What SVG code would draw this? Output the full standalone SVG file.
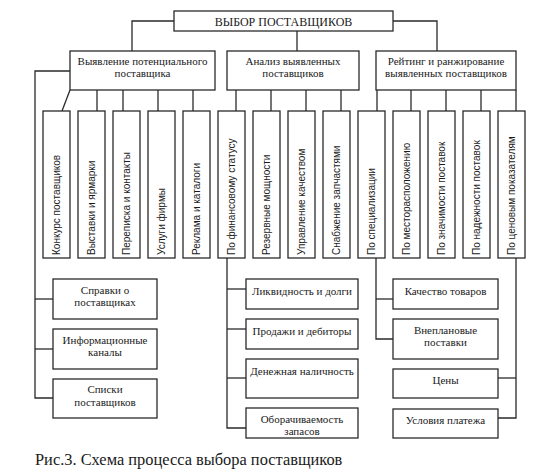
<svg xmlns="http://www.w3.org/2000/svg" width="543" height="474" viewBox="0 0 543 474">
<style>
.b{fill:#fff;stroke:#2a2a2a;stroke-width:1.3}
.c{fill:none;stroke:#2a2a2a;stroke-width:1.3}
.s{font-family:"Liberation Serif","Times New Roman",serif;font-size:11px;fill:#1a1a1a;text-anchor:middle}
.v{font-family:"Liberation Sans",Arial,sans-serif;font-size:10px;fill:#1a1a1a;text-anchor:start}
.t{font-family:"Liberation Serif","Times New Roman",serif;font-size:12px;fill:#1a1a1a;text-anchor:middle}
.cap{font-family:"Liberation Serif","Times New Roman",serif;font-size:16.4px;fill:#1a1a1a}
</style>
<rect width="543" height="474" fill="#fff"/>
<g id="connectors">
<polyline class="c" points="174,21 132,21 132,51"/>
<polyline class="c" points="393,21 437,21 437,51"/>
<line class="c" x1="297" y1="31" x2="297" y2="51"/>
<line class="c" x1="70" y1="90" x2="62" y2="111"/>
<line class="c" x1="97" y1="90" x2="97" y2="111"/>
<line class="c" x1="123" y1="90" x2="123" y2="111"/>
<line class="c" x1="158" y1="90" x2="158" y2="111"/>
<line class="c" x1="193" y1="90" x2="193" y2="111"/>
<line class="c" x1="236" y1="90" x2="236" y2="111"/>
<line class="c" x1="271" y1="90" x2="271" y2="111"/>
<line class="c" x1="306" y1="90" x2="306" y2="111"/>
<line class="c" x1="341" y1="90" x2="341" y2="111"/>
<line class="c" x1="377" y1="90" x2="377" y2="111"/>
<line class="c" x1="411" y1="90" x2="411" y2="111"/>
<line class="c" x1="446" y1="90" x2="446" y2="111"/>
<line class="c" x1="481" y1="90" x2="481" y2="111"/>
<line class="c" x1="516" y1="90" x2="516" y2="111"/>
<polyline class="c" points="70,71 35,71 35,398 53,398"/>
<line class="c" x1="35" y1="299" x2="53" y2="299"/>
<line class="c" x1="35" y1="349" x2="53" y2="349"/>
<polyline class="c" points="227,258 227,428 246,428"/>
<line class="c" x1="227" y1="289" x2="246" y2="289"/>
<line class="c" x1="227" y1="329" x2="246" y2="329"/>
<line class="c" x1="227" y1="378" x2="246" y2="378"/>
<polyline class="c" points="376,258 376,339 393,339"/>
<line class="c" x1="376" y1="299" x2="393" y2="299"/>
<polyline class="c" points="516,258 516,418 498,418"/>
<line class="c" x1="516" y1="378" x2="498" y2="378"/>
</g>
<g id="root"><rect class="b" x="174" y="11" width="219" height="20"/><text class="t" x="283.5" y="25.5">ВЫБОР ПОСТАВЩИКОВ</text></g>
<g id="l1a"><rect class="b" x="70" y="51" width="145" height="39"/><text class="s" x="142.5" y="65">Выявление потенциального</text><text class="s" x="142.5" y="77">поставщика</text></g>
<g id="l1b"><rect class="b" x="227" y="51" width="132" height="39"/><text class="s" x="293" y="65">Анализ выявленных</text><text class="s" x="293" y="77">поставщиков</text></g>
<g id="l1c"><rect class="b" x="376" y="51" width="140" height="39"/><text class="s" x="446" y="65">Рейтинг и ранжирование</text><text class="s" x="446" y="77">выявленных поставщиков</text></g>
<g id="v1"><rect class="b" x="43" y="111" width="27" height="147"/><text class="v" transform="translate(60,255) rotate(-90)">Конкурс поставщиков</text></g>
<g id="v2"><rect class="b" x="78" y="111" width="27" height="147"/><text class="v" transform="translate(95,255) rotate(-90)">Выставки и ярмарки</text></g>
<g id="v3"><rect class="b" x="113" y="111" width="27" height="147"/><text class="v" transform="translate(130,255) rotate(-90)">Переписка и контакты</text></g>
<g id="v4"><rect class="b" x="148" y="111" width="27" height="147"/><text class="v" transform="translate(165,255) rotate(-90)">Услуги фирмы</text></g>
<g id="v5"><rect class="b" x="183" y="111" width="27" height="147"/><text class="v" transform="translate(200,255) rotate(-90)">Реклама и каталоги</text></g>
<g id="v6"><rect class="b" x="218" y="111" width="27" height="147"/><text class="v" transform="translate(235,255) rotate(-90)">По финансовому статусу</text></g>
<g id="v7"><rect class="b" x="253" y="111" width="27" height="147"/><text class="v" transform="translate(270,255) rotate(-90)">Резервные мощности</text></g>
<g id="v8"><rect class="b" x="288" y="111" width="27" height="147"/><text class="v" transform="translate(305,255) rotate(-90)">Управление качеством</text></g>
<g id="v9"><rect class="b" x="323" y="111" width="27" height="147"/><text class="v" transform="translate(340,255) rotate(-90)">Снабжение запчастями</text></g>
<g id="v10"><rect class="b" x="358" y="111" width="27" height="147"/><text class="v" transform="translate(375,255) rotate(-90)">По специализации</text></g>
<g id="v11"><rect class="b" x="393" y="111" width="27" height="147"/><text class="v" transform="translate(410,255) rotate(-90)">По месторасположению</text></g>
<g id="v12"><rect class="b" x="428" y="111" width="27" height="147"/><text class="v" transform="translate(445,255) rotate(-90)">По значимости поставок</text></g>
<g id="v13"><rect class="b" x="463" y="111" width="27" height="147"/><text class="v" transform="translate(480,255) rotate(-90)">По надежности поставок</text></g>
<g id="v14"><rect class="b" x="498" y="111" width="27" height="147"/><text class="v" transform="translate(515,255) rotate(-90)">По ценовым показателям</text></g>
<g id="a1"><rect class="b" x="53" y="279" width="104" height="40"/><text class="s" x="105" y="294">Справки о</text><text class="s" x="105" y="306">поставщиках</text></g>
<g id="a2"><rect class="b" x="53" y="329" width="104" height="40"/><text class="s" x="105" y="344">Информационные</text><text class="s" x="105" y="356">каналы</text></g>
<g id="a3"><rect class="b" x="53" y="379" width="104" height="39"/><text class="s" x="105" y="393">Списки</text><text class="s" x="105" y="406">поставщиков</text></g>
<g id="b1"><rect class="b" x="246" y="279" width="112" height="30"/><text class="s" x="302" y="295">Ликвидность и долги</text></g>
<g id="b2"><rect class="b" x="246" y="319" width="112" height="30"/><text class="s" x="302" y="335">Продажи и дебиторы</text></g>
<g id="b3"><rect class="b" x="246" y="359" width="112" height="39"/><text class="s" x="302" y="375">Денежная наличность</text></g>
<g id="b4"><rect class="b" x="246" y="408" width="112" height="30"/><text class="s" x="302" y="423">Оборачиваемость</text><text class="s" x="302" y="435">запасов</text></g>
<g id="c1"><rect class="b" x="393" y="279" width="105" height="30"/><text class="s" x="445.5" y="295">Качество товаров</text></g>
<g id="c2"><rect class="b" x="393" y="319" width="105" height="40"/><text class="s" x="445.5" y="334">Внеплановые</text><text class="s" x="445.5" y="346">поставки</text></g>
<g id="c3"><rect class="b" x="393" y="369" width="105" height="29"/><text class="s" x="445.5" y="384">Цены</text></g>
<g id="c4"><rect class="b" x="393" y="409" width="105" height="29"/><text class="s" x="445.5" y="424">Условия платежа</text></g>
<text class="cap" x="35" y="465">Рис.3. Схема процесса выбора поставщиков</text>
</svg>
